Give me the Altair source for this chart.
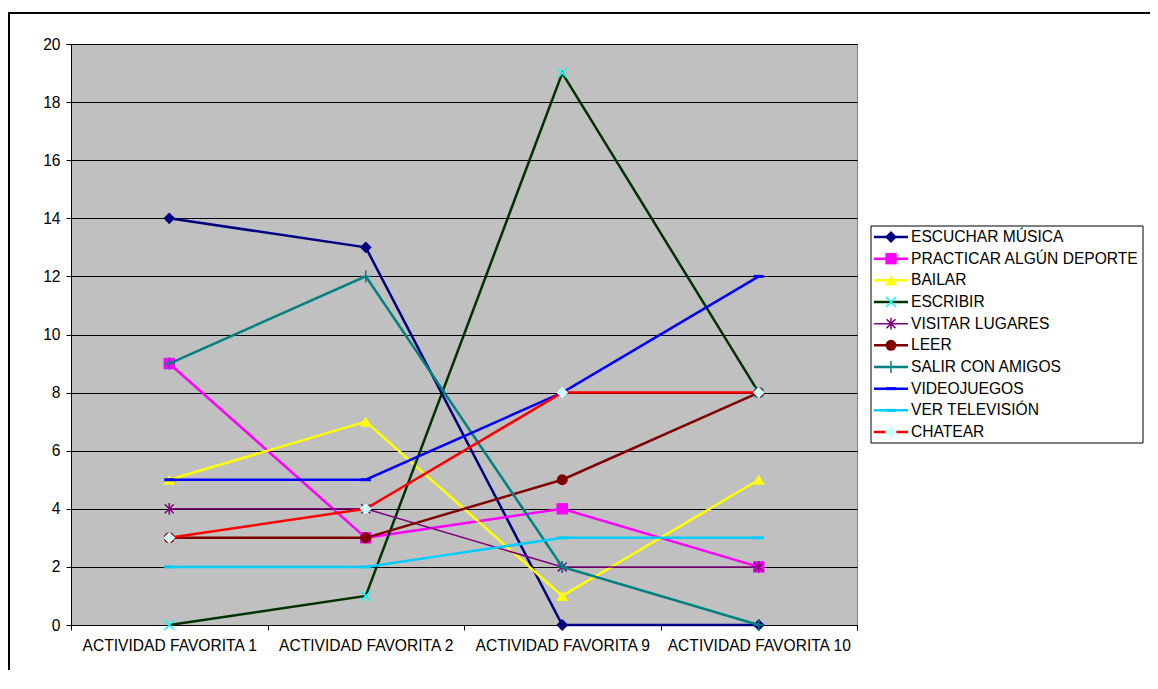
import altair as alt
import pandas as pd

categories = ["ACTIVIDAD FAVORITA 1", "ACTIVIDAD FAVORITA 2", "ACTIVIDAD FAVORITA 9", "ACTIVIDAD FAVORITA 10"]
series_names = ["ESCUCHAR MÚSICA", "PRACTICAR ALGÚN DEPORTE", "BAILAR", "ESCRIBIR", "VISITAR LUGARES",
                "LEER", "SALIR CON AMIGOS", "VIDEOJUEGOS", "VER TELEVISIÓN", "CHATEAR"]
escuchar_musica = [14, 13, 0, 0]
practicar_deporte = [9, 3, 4, 2]
bailar = [5, 7, 1, 5]
escribir = [0, 1, 19, 8]
visitar_lugares = [4, 4, 2, 2]
leer = [3, 3, 5, 8]
salir_con_amigos = [9, 12, 2, 0]
videojuegos = [5, 5, 8, 12]
ver_television = [2, 2, 3, 3]
chatear = [3, 4, 8, 8]
y_ticks = [0, 2, 4, 6, 8, 10, 12, 14, 16, 18, 20]

series_values = [escuchar_musica, practicar_deporte, bailar, escribir, visitar_lugares,
                 leer, salir_con_amigos, videojuegos, ver_television, chatear]

X_PATH = "M-1,-1L1,1M-1,1L1,-1"
STAR_PATH = "M-1,-1L1,1M-1,1L1,-1M0,-1.3L0,1.3"
PLUS_PATH = "M-1,0L1,0M0,-1.2L0,1.2"
DASH_PATH = "M-1,0L1,0"

styles = [
    dict(line="#000080", width=2.5, shape="diamond", filled=True, mcolor="#000080", size=140, sw=1),
    dict(line="#FF00FF", width=2.5, shape="square", filled=True, mcolor="#FF00FF", size=130, sw=1),
    dict(line="#FFFF00", width=2.5, shape="triangle-up", filled=True, mcolor="#FFFF00", size=140, sw=1),
    dict(line="#003300", width=2.5, shape=X_PATH, filled=False, mcolor="#00FFFF", size=100, sw=1.5),
    dict(line="#800080", width=1.5, shape=STAR_PATH, filled=False, mcolor="#800080", size=80, sw=1.5),
    dict(line="#800000", width=2.5, shape="circle", filled=True, mcolor="#800000", size=120, sw=1),
    dict(line="#008080", width=2.5, shape=PLUS_PATH, filled=False, mcolor="#008080", size=100, sw=1.5),
    dict(line="#0000FF", width=2.5, shape=DASH_PATH, filled=False, mcolor="#0000FF", size=100, sw=3),
    dict(line="#00CCFF", width=2.5, shape=DASH_PATH, filled=False, mcolor="#00CCFF", size=100, sw=3),
    dict(line="#FF0000", width=2.5, shape="diamond", filled=True, mcolor="#CCFFFF", size=140, sw=1),
]

FONT = "Liberation Sans"
FS = 15.6

rows = []
for name, vals in zip(series_names, series_values):
    for c, v in zip(categories, vals):
        rows.append({"series": name, "cat": c, "value": v})
df = pd.DataFrame(rows)

x_enc = alt.X(
    "cat:N", sort=categories, bandPosition=0.5,
    scale=alt.Scale(type="band", domain=categories, paddingInner=0, paddingOuter=0),
    axis=alt.Axis(title=None, tickBand="extent", labelAngle=0, labelFont=FONT, labelFontSize=FS,
                  labelColor="black", tickColor="black", tickSize=5, domainColor="black",
                  labelPadding=8, grid=False, labelLimit=400, labelOverlap=False),
)
y_enc = alt.Y(
    "value:Q",
    scale=alt.Scale(domain=[0, 20], nice=False, zero=True),
    axis=alt.Axis(title=None, values=y_ticks, grid=True, gridColor="black", gridWidth=1,
                  labelFont=FONT, labelFontSize=FS, labelColor="black", tickColor="black",
                  tickSize=5, domainColor="black", labelPadding=6),
)

main_layers = []
for name, st in zip(series_names, styles):
    base = alt.Chart(df).transform_filter(alt.datum.series == name)
    line = base.mark_line(color=st["line"], strokeWidth=st["width"]).encode(x=x_enc, y=y_enc)
    pt = base.mark_point(shape=st["shape"], filled=st["filled"], color=st["mcolor"], size=st["size"],
                         strokeWidth=st["sw"], opacity=1).encode(x=x_enc, y=y_enc)
    main_layers += [line, pt]
main = alt.layer(*main_layers)

dummy = pd.DataFrame({"a": [1]})
leg_df = pd.DataFrame({"series": series_names})
leg_y = alt.Y("series:N", scale=alt.Scale(type="point", domain=series_names, range=[193, 388], padding=0),
              axis=None)

leg_layers = [
    alt.Chart(dummy).mark_rect(fill="white", stroke="black", strokeWidth=1).encode(
        x=alt.value(800), x2=alt.value(1072), y=alt.value(182), y2=alt.value(399))
]
for name, st in zip(series_names, styles):
    d = pd.DataFrame({"series": [name]})
    leg_layers.append(alt.Chart(d).mark_rule(color=st["line"], strokeWidth=st["width"]).encode(
        x=alt.value(803), x2=alt.value(837), y=leg_y))
    leg_layers.append(alt.Chart(d).mark_point(shape=st["shape"], filled=st["filled"], color=st["mcolor"],
                                              size=st["size"], strokeWidth=st["sw"], opacity=1).encode(
        x=alt.value(820), y=leg_y))
leg_layers.append(alt.Chart(leg_df).mark_text(align="left", baseline="middle", font=FONT, fontSize=FS,
                                              color="black").encode(x=alt.value(840), y=leg_y, text="series:N"))
legend = alt.layer(*leg_layers)

frame = alt.layer(
    alt.Chart(dummy).mark_rule(color="black", strokeWidth=2).encode(
        x=alt.value(-62), y=alt.value(-31), y2=alt.value(640)),
    alt.Chart(dummy).mark_rule(color="black", strokeWidth=2).encode(
        x=alt.value(-63), x2=alt.value(1100), y=alt.value(-31)),
)

chart = alt.layer(main, legend, frame).resolve_scale(x="independent", y="independent").properties(
    width=786, height=581,
    autosize=alt.AutoSizeParams(type="none"),
    padding={"left": 63, "top": 36, "right": 293, "bottom": 45},
    background="white",
).configure_view(fill="#C0C0C0", stroke="#808080", strokeWidth=1)

chart.save("out.html", embed_options={"renderer": "svg", "actions": False})
